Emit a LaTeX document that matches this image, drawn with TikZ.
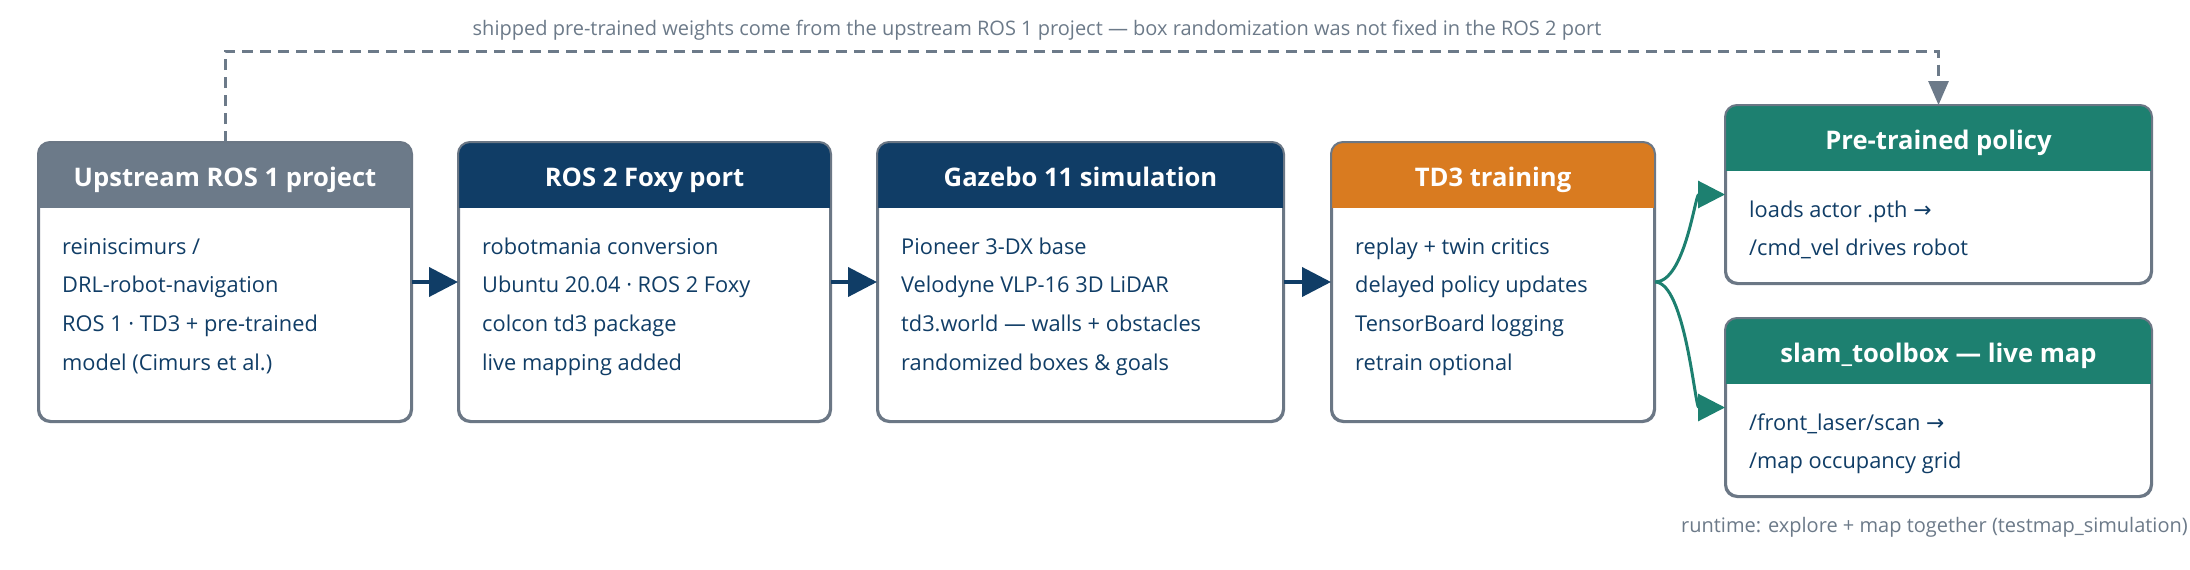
\documentclass[tikz,border=0pt]{standalone}
\usepackage{fontspec}
\setmainfont{Open Sans}
\newfontfamily\symfont{DejaVu Sans}
\usetikzlibrary{arrows.meta}
\definecolor{navy}{HTML}{103D66}
\definecolor{slate}{HTML}{6C7A89}
\definecolor{orng}{HTML}{D97B20}
\definecolor{teal2}{HTML}{1D8070}
\definecolor{bordr}{HTML}{6B7785}
\tikzset{
 card/.style={draw=bordr, line width=2pt, rounded corners=12pt, fill=white, inner sep=0pt, anchor=north west},
 cardtitle/.style={text=white, font=\fontsize{25.6}{30}\selectfont\bfseries, inner sep=0pt, anchor=base},
 bodytext/.style={text=navy, font=\fontsize{21.8}{26}\selectfont, inner sep=0pt, anchor=base west},
 note/.style={text=slate, font=\fontsize{20}{24}\selectfont, inner sep=0pt},
 flow/.style={draw=navy, line width=4pt, -{Triangle[length=29pt,width=29pt]}},
 branch/.style={draw=teal2, line width=3pt, -{Triangle[length=27pt,width=27pt]}},
 feedback/.style={draw=slate, line width=3pt, dash pattern=on 11pt off 7pt, -{Triangle[length=24pt,width=20pt]}},
}
\newcommand{\stagecard}[8]{%
 \node[card, minimum width=#4pt, minimum height=#5pt] (#1) at (#2,#3) {};
 \begin{scope}
  \clip[rounded corners=12pt] (#1.north west) rectangle (#1.south east);
  \fill[#6] (#1.north west) rectangle ([yshift=-66pt]#1.north east);
 \end{scope}
 \draw[bordr, line width=2pt, rounded corners=12pt] (#1.north west) rectangle (#1.south east);
 \node[cardtitle] (#1-title) at ([yshift=-44pt]#1.north) {#7};
 \foreach \bodyline [count=\i] in {#8}
  \node[bodytext] (#1-\i) at ([xshift=24pt, yshift={-(112pt+(\i-1)*38.7pt)}]#1.north west) {\bodyline};
}
\begin{document}
\begin{tikzpicture}[x=1pt,y=-1pt]
\useasboundingbox (0,0) rectangle (2190,570);
\fill[white] (0,0) rectangle (2190,570);
\stagecard{b1}{38}{142}{372}{278}{slate}{Upstream ROS 1 project}{reiniscimurs /,DRL-robot-navigation,ROS 1 · TD3 + pre-trained,model (Cimurs et al.)}
\stagecard{b2}{458}{142}{371}{278}{navy}{ROS 2 Foxy port}{robotmania conversion,Ubuntu 20.04 · ROS 2 Foxy,colcon td3 package,live mapping added}
\stagecard{b3}{877}{142}{405}{278}{navy}{Gazebo 11 simulation}{Pioneer 3-DX base,Velodyne VLP-16 3D LiDAR,td3.world — walls + obstacles,randomized boxes \& goals}
\stagecard{b4}{1331}{142}{322}{278}{orng}{TD3 training}{replay + twin critics,delayed policy updates,TensorBoard logging,retrain optional}
\stagecard{b5}{1725}{105}{425}{177}{teal2}{Pre-trained policy}{loads actor .pth {\symfont →},/cmd\_vel drives robot}
\stagecard{b6}{1725}{318}{425}{177}{teal2}{slam\_toolbox — live map}{/front\_laser/scan {\symfont →},/map occupancy grid}
\draw[flow] (b1.east) -- (b2.west);
\draw[flow] (b2.east) -- (b3.west);
\draw[flow] (b3.east) -- (b4.west);
\draw[branch] (b4.east) .. controls +(30,0) and +(-30,0) .. (b5.west);
\draw[branch] (b4.east) .. controls +(30,0) and +(-30,0) .. (b6.west);
\coordinate (fbtop) at (0,51);
\draw[feedback] (b1.north) |- (fbtop -| b5.north) -- (b5.north);
\node[note] (fblabel) at (1037,30) {shipped pre-trained weights come from the upstream ROS 1 project — box randomization was not fixed in the ROS 2 port};
\node[note, anchor=east] (runtime) at (2188,527) {runtime: explore + map together (testmap\_simulation)};
\end{tikzpicture}
\end{document}
